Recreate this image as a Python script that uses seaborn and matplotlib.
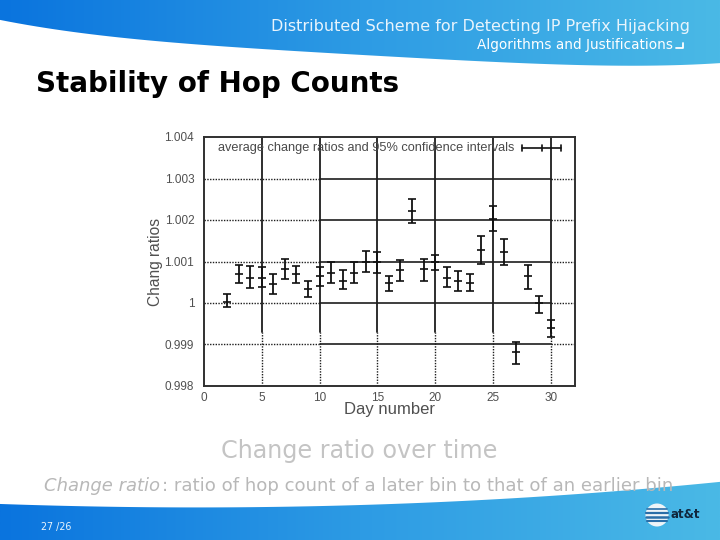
import matplotlib
matplotlib.use("Agg")
import matplotlib.pyplot as plt
import numpy as np
import pandas as pd
import seaborn as sns
from matplotlib.patches import Polygon, Circle

days = list(range(2, 31))
means = [1.00003, 1.00070, 1.00060, 1.00060, 1.00046, 1.00082, 1.00070, 1.00034, 1.00064,
         1.00073, 1.00054, 1.00073, 1.00100, 1.00098, 1.00048, 1.00079, 1.00222, 1.00082,
         1.00098, 1.00061, 1.00054, 1.00048, 1.00128, 1.00202, 1.00122, 0.99881, 1.00064,
         0.99999, 0.99939]
lows = [0.99990, 1.00048, 1.00036, 1.00039, 1.00021, 1.00058, 1.00048, 1.00014, 1.00042,
        1.00048, 1.00033, 1.00048, 1.00075, 1.00073, 1.00030, 1.00054, 1.00192, 1.00054,
        1.00079, 1.00039, 1.00030, 1.00030, 1.00094, 1.00173, 1.00091, 0.99853, 1.00033,
        0.99975, 0.99918]
highs = [1.00021, 1.00091, 1.00088, 1.00086, 1.00070, 1.00106, 1.00088, 1.00052, 1.00086,
         1.00098, 1.00079, 1.00098, 1.00126, 1.00122, 1.00066, 1.00103, 1.00250, 1.00106,
         1.00116, 1.00086, 1.00076, 1.00070, 1.00161, 1.00234, 1.00155, 0.99906, 1.00091,
         1.00018, 0.99958]
x_ticks = [0, 5, 10, 15, 20, 25, 30]
y_ticks = [0.998, 0.999, 1, 1.001, 1.002, 1.003, 1.004]
y_tick_labels = ["0.998", "0.999", "1", "1.001", "1.002", "1.003", "1.004"]

W, H = 720, 540
sns.set_theme(style="white")
plt.rcParams["font.family"] = ["DejaVu Sans"]
fig = plt.figure(figsize=(W / 100, H / 100), dpi=100, facecolor="white")

# slide background, pixel coords
bg = fig.add_axes([0, 0, 1, 1])
bg.set_xlim(0, W)
bg.set_ylim(H, 0)
bg.axis("off")
grad = np.linspace(0, 1, 256).reshape(1, -1)
cmap = matplotlib.colors.LinearSegmentedColormap.from_list("band", ["#0a74de", "#2d9be4", "#4ab9e6"])
edge_x = np.linspace(0, W, 80)
top_fit = np.polyfit([0, 100, 200, 400, 550, 640, 720], [20, 35, 45, 57, 64, 66, 63], 4)
bot_fit = np.polyfit([0, 250, 450, 600, 720], [504, 507, 502, 492, 482], 3)
top_edge = list(zip(edge_x, np.polyval(top_fit, edge_x)))
bot_edge = list(zip(edge_x, np.polyval(bot_fit, edge_x)))
top_shape = Polygon([(0, 0)] + top_edge + [(W, 0)], transform=bg.transData, fc="none", ec="none")
bot_shape = Polygon([(0, H)] + bot_edge + [(W, H)], transform=bg.transData, fc="none", ec="none")
for shape, ext in [(top_shape, (0, W, 70, 0)), (bot_shape, (0, W, H, 480))]:
    bg.add_patch(shape)
    im = bg.imshow(grad, extent=ext, cmap=cmap, aspect="auto")
    im.set_clip_path(shape)
bg.set_xlim(0, W)
bg.set_ylim(H, 0)

bg.text(690, 26, "Distributed Scheme for Detecting IP Prefix Hijacking", color="#e8f4fc",
        fontsize=11.5, ha="right", va="center")
bg.text(673, 45, "Algorithms and Justifications", color="white", fontsize=9.8,
        ha="right", va="center")
bg.plot([676, 683, 683], [48, 48, 43], color="white", lw=1.3)
bg.text(36, 84, "Stability of Hop Counts", color="black", fontsize=20, fontweight="bold",
        ha="left", va="center")
bg.text(359, 451, "Change ratio over time", color="#c4c4c4", fontsize=17.2, ha="center", va="center")
bg.text(44, 486, "Change ratio", color="#b8b8b8", fontsize=13, style="italic", ha="left", va="center")
bg.text(162, 486, ": ratio of hop count of a later bin to that of an earlier bin", color="#b8b8b8",
        fontsize=13.1, ha="left", va="center")
bg.text(41, 527, "27 /26", color="#e8f4fc", fontsize=6.9, ha="left", va="center")

# at&t globe
bg.add_patch(Circle((657, 515), 11.5, fc="#eef4f8", ec="none"))
for dy, lw in [(-6, 1.2), (-2, 1.6), (2, 1.8), (6, 1.5)]:
    half = np.sqrt(11.5 ** 2 - dy ** 2)
    bg.plot([657 - half, 657 + half], [515 + dy, 515 + dy], color="#2a6ea8", lw=lw)
bg.text(685, 514, "at&t", color="#10263c", fontsize=8.5, fontweight="bold", ha="center", va="center")

# chart
chart_font = "Liberation Sans"
ax = fig.add_axes([204 / W, 1 - 386 / H, (575 - 204) / W, (386 - 137) / H])
df = pd.DataFrame({"day": days, "mean": means, "low": lows, "high": highs})
ink = "#111111"
grid = "#1e1e1e"

for y in y_ticks[1:-1]:
    ax.plot([0, 10], [y, y], color=grid, lw=1, ls=(0, (1, 1)))
    ax.plot([10, 30], [y, y], color=grid, lw=1.2)
    ax.plot([30, 32.1], [y, y], color=grid, lw=1, ls=(0, (1, 1)))
for x in x_ticks[1:]:
    ax.plot([x, x], [0.9993, 1.004], color=grid, lw=1.3)
    ax.plot([x, x], [0.998, 0.9993], color=grid, lw=1, ls=(0, (1, 1)))

ax.errorbar(df["day"], df["mean"],
            yerr=[df["mean"] - df["low"], df["high"] - df["mean"]],
            fmt="none", ecolor=ink, elinewidth=1.3, capsize=2.8, capthick=1.2, zorder=4)
sns.scatterplot(data=df, x="day", y="mean", marker="_", s=36, color=ink, linewidth=1.2,
                legend=False, ax=ax, zorder=5)

ax.set_xlim(0, 32.1)
ax.set_ylim(0.998, 1.004)
ax.set_xticks(x_ticks)
ax.set_yticks(y_ticks)
ax.set_yticklabels(y_tick_labels)
ax.tick_params(axis="y", length=0, labelsize=8.5, labelcolor="#505050", pad=7)
ax.tick_params(axis="x", length=0, labelsize=8.5, labelcolor="#505050", pad=4)
for lab in ax.get_xticklabels() + ax.get_yticklabels():
    lab.set_family(chart_font)
ax.set_xlabel("Day number", fontsize=12, color="#505050", labelpad=-1, family=chart_font)
ax.set_ylabel("Chang ratios", fontsize=11.2, color="#505050", labelpad=1, family=chart_font)
for s in ax.spines.values():
    s.set_color("#303030")
    s.set_linewidth(1.4)

ax.text(0.038, 0.955, "average change ratios and 95% confidence intervals", transform=ax.transAxes,
        fontsize=9.2, color="#4a4a4a", va="center", ha="left", zorder=6, family=chart_font)
ax.plot([0.858, 0.962], [0.955, 0.955], transform=ax.transAxes, color=ink, lw=1.2)
for xa in [0.858, 0.91, 0.962]:
    ax.plot([xa, xa], [0.943, 0.967], transform=ax.transAxes, color=ink, lw=1.2)

fig.savefig("out.png", dpi=100)
